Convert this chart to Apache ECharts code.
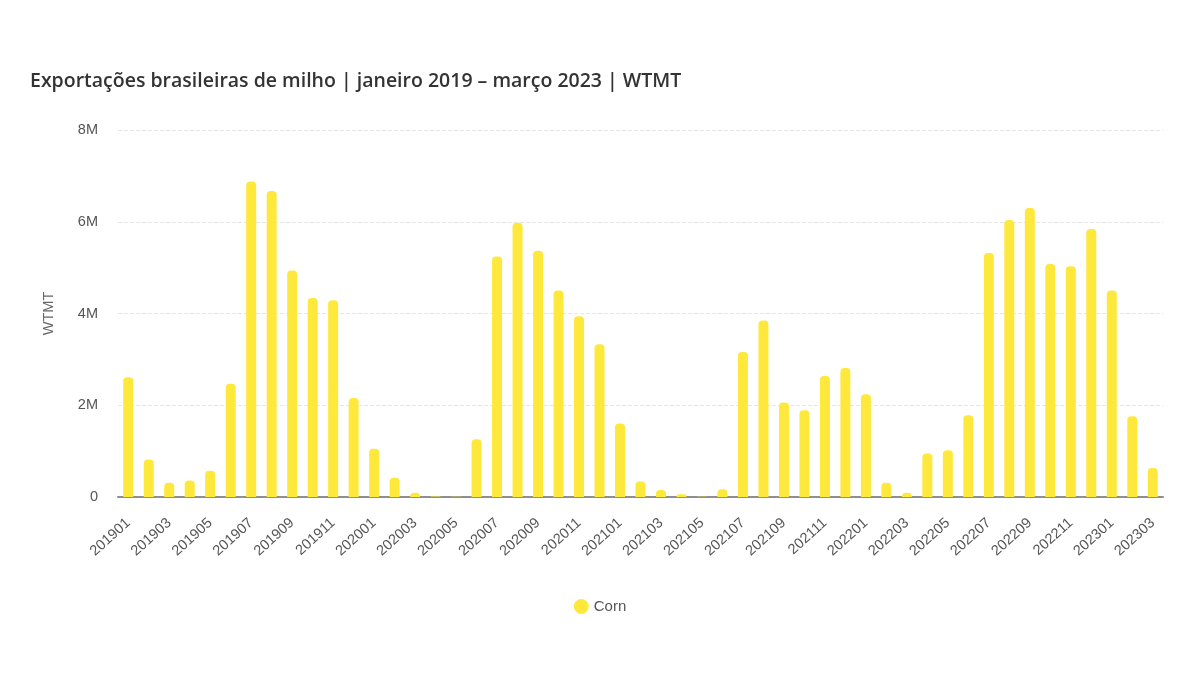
<!DOCTYPE html>
<html>
<head>
<meta charset="utf-8">
<script src="https://cdn.jsdelivr.net/npm/echarts@6/dist/echarts.min.js"></script>
<style>html,body{margin:0;padding:0;background:#fff;}#c{width:1200px;height:674px;}</style>
</head>
<body>
<div id="c"></div>
<script>
const titleText = 'Exportações brasileiras de milho | janeiro 2019 – março 2023 | WTMT';
const seriesName = 'Corn';
const yAxisName = 'WTMT';
const months = [
  '201901','201902','201903','201904','201905','201906','201907','201908','201909','201910','201911','201912',
  '202001','202002','202003','202004','202005','202006','202007','202008','202009','202010','202011','202012',
  '202101','202102','202103','202104','202105','202106','202107','202108','202109','202110','202111','202112',
  '202201','202202','202203','202204','202205','202206','202207','202208','202209','202210','202211','202212',
  '202301','202302','202303'
];
const cornExports = [
  2610000, 820000, 310000, 360000, 570000, 2470000, 6880000, 6670000, 4940000, 4340000, 4290000, 2160000,
  1050000, 420000, 90000, 10000, 5000, 1260000, 5240000, 5980000, 5370000, 4500000, 3940000, 3330000,
  1600000, 340000, 150000, 60000, 5000, 170000, 3160000, 3850000, 2060000, 1890000, 2640000, 2810000,
  2240000, 310000, 90000, 950000, 1020000, 1780000, 5320000, 6040000, 6300000, 5080000, 5030000, 5840000,
  4500000, 1760000, 630000
];
const yTicks = [0, 2000000, 4000000, 6000000, 8000000];

const chart = echarts.init(document.getElementById('c'), null, {renderer: 'canvas'});
chart.setOption({
  backgroundColor: '#ffffff',
  animation: false,
  title: {
    text: titleText,
    left: 25, top: 66,
    textStyle: {fontFamily: 'Open Sans', fontSize: 19.5, fontWeight: 600, color: '#333333'}
  },
  legend: {
    data: [seriesName],
    bottom: 55, left: 'center',
    icon: 'circle', itemWidth: 15, itemHeight: 15, itemGap: 10,
    textStyle: {fontFamily: 'Liberation Sans', fontSize: 15, color: '#555'}
  },
  grid: {left: 118, right: 37, top: 130, bottom: 177, containLabel: false},
  xAxis: {
    type: 'category',
    data: months,
    axisLine: {lineStyle: {color: '#8f8f8f', width: 2}},
    axisTick: {show: false},
    axisLabel: {
      interval: 1, rotate: 42, fontFamily: 'Liberation Sans', fontSize: 14.5, color: '#555', margin: 24
    }
  },
  yAxis: {
    type: 'value',
    min: yTicks[0], max: yTicks[yTicks.length - 1], interval: 2000000,
    name: yAxisName, nameLocation: 'middle', nameGap: 62, nameRotate: 90,
    nameTextStyle: {fontFamily: 'Liberation Sans', fontSize: 14.5, color: '#666'},
    axisLine: {show: false},
    axisTick: {show: false},
    axisLabel: {
      fontFamily: 'Liberation Sans', fontSize: 14.5, color: '#555', margin: 20,
      formatter: v => v === 0 ? '0' : (v / 1000000) + 'M'
    },
    splitLine: {lineStyle: {color: '#e6e6e6', type: 'dashed', width: 1}}
  },
  series: [{
    name: seriesName,
    type: 'bar',
    data: cornExports,
    barWidth: 10,
    itemStyle: {color: '#FFE83C', borderRadius: [4, 4, 0, 0]}
  }]
});
</script>
</body>
</html>
